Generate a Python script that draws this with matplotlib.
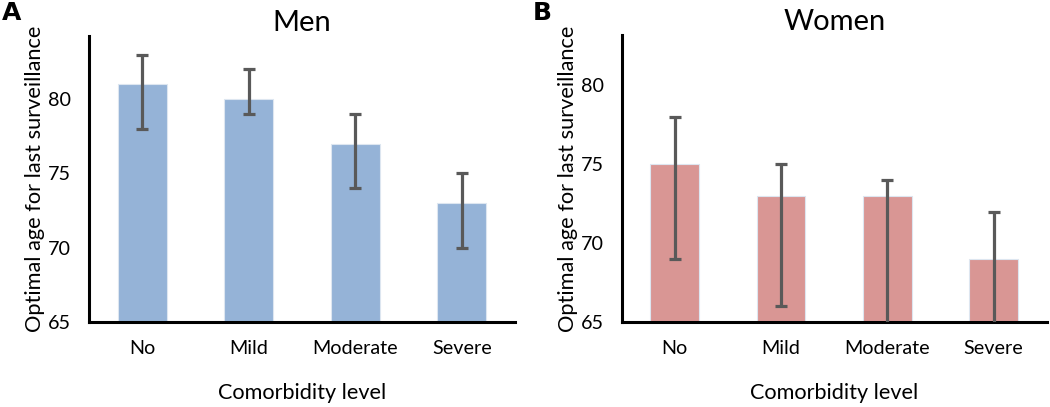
import matplotlib.pyplot as plt
import numpy as np

plt.rcParams['font.family'] = ['Lato', 'DejaVu Sans']

categories = ['No', 'Mild', 'Moderate', 'Severe']

men_age = [81, 80, 77, 73]
men_low = [78, 79, 74, 70]
men_high = [83, 82, 79, 75]

women_age = [75, 73, 73, 69]
women_low = [69, 66, 64, 64]
women_high = [78, 75, 74, 72]

fig = plt.figure(figsize=(10.5, 4.07), dpi=100)

panels = [
    ('A', 'Men', men_age, men_low, men_high, '#95B3D7', [0.0848, 0.2088, 0.4057, 0.7027], 84.25, 0.002),
    ('B', 'Women', women_age, women_low, women_high, '#D99694', [0.5921, 0.2088, 0.4047, 0.7052], 83.2, 0.507),
]

x = np.arange(len(categories))
for letter, title, age, low, high, color, rect, ymax, lx in panels:
    ax = fig.add_axes(rect)
    age = np.array(age)
    err = [age - np.array(low), np.array(high) - age]
    ax.bar(x, age - 65, bottom=65, width=0.46, color=color, edgecolor='#dde6f0', linewidth=0.8, zorder=2)
    ax.errorbar(x, age, yerr=err, fmt='none', ecolor='#595959', elinewidth=2.3,
                capsize=4, capthick=2.3, zorder=3, clip_on=True)
    ax.set_xlim(-0.5, 3.5)
    ax.set_ylim(65, ymax)
    ax.set_yticks([65, 70, 75, 80])
    ax.set_xticks(x)
    ax.set_xticklabels(categories)
    ax.tick_params(length=0, labelsize=14.2)
    ax.tick_params(axis='y', pad=13)
    ax.tick_params(axis='x', pad=13)
    for s in ['top', 'right']:
        ax.spines[s].set_visible(False)
    for s in ['left', 'bottom']:
        ax.spines[s].set_linewidth(2.2)
    ax.set_title(title, fontsize=21, pad=3)
    ax.set_xlabel('Comorbidity level', fontsize=15.6, labelpad=19)
    ax.set_ylabel('Optimal age for last surveillance', fontsize=15.7, labelpad=2)
    fig.text(lx, 0.998, letter, fontsize=18, fontweight='bold', va='top', ha='left',
             family='DejaVu Sans')

fig.savefig('out.png', dpi=100)
